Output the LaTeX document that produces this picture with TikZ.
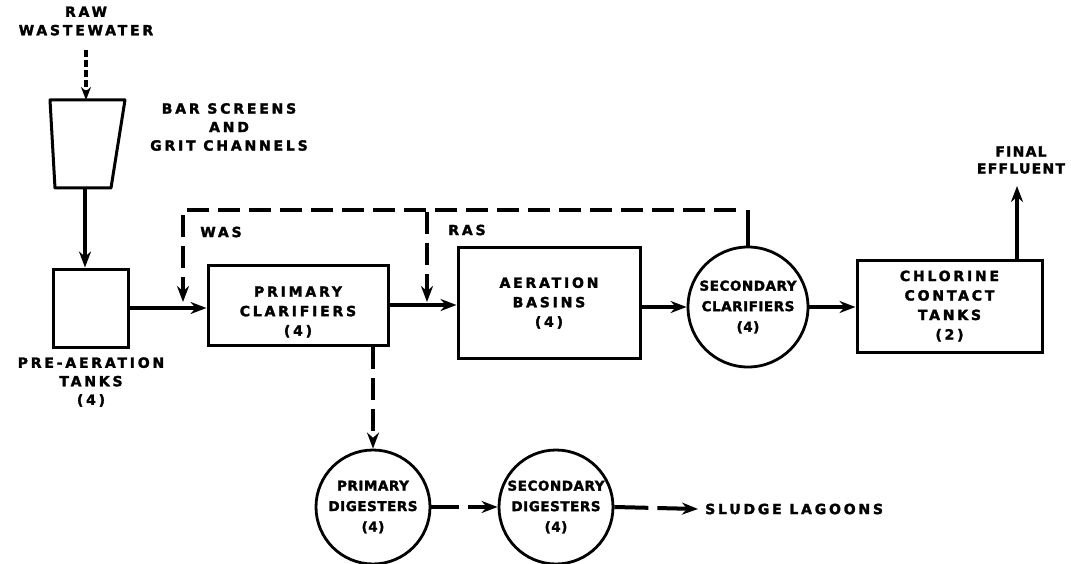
\documentclass[tikz,border=0pt]{standalone}
\usepackage{fontspec}
\newfontfamily\lbl[LetterSpace=20,FakeBold=2]{DejaVu Sans Bold}
\newfontfamily\lblnarrow[LetterSpace=9,FakeBold=2]{DejaVu Sans Bold}
\newfontfamily\tight[LetterSpace=4,FakeBold=2]{DejaVu Sans Bold}
\usetikzlibrary{arrows.meta}
\begin{document}
\begin{tikzpicture}[x=1pt,y=-1pt,
  txt/.style={font=\lbl\fontsize{14}{18.5}\selectfont, align=center, inner sep=0pt},
  boxnode/.style={draw, line width=3pt, align=center, inner sep=0pt, font=\lbl\fontsize{14}{19.5}\selectfont},
  circnode/.style={draw, circle, line width=2.8pt, align=center, inner sep=0pt, font=\tight\fontsize{13.5}{20.5}\selectfont},
  flow/.style={line width=4.5pt, -{Stealth[length=16pt,width=12pt]}},
  dflow/.style={line width=4pt, dash pattern=on 22pt off 9pt, -{Stealth[length=16pt,width=12pt]}}
]
\useasboundingbox (0,0) rectangle (1071,564);

% labels
\node[txt] (raw) at (86,21) {RAW\\WASTEWATER};
\node[txt] (bar) at (229,127) {BAR SCREENS\\AND\\GRIT CHANNELS};
\node[txt] (pretxt) at (91,382) {PRE-AERATION\\TANKS\\(4)};
\node[txt] (was) at (221,232) {WAS};
\node[txt] (ras) at (467,230) {RAS};
\node[txt, font=\lblnarrow\fontsize{14}{17}\selectfont] (fin) at (1021,160) {FINAL\\EFFLUENT};

% trapezoid (bar screens)
\coordinate (rawStart) at (86,50);
\coordinate (trapTop) at (86,100);
\coordinate (trapBot) at (85,188);
\draw[line width=3pt, line join=round] (50,100) -- (125,100) -- (111,188) -- (55,188) -- cycle;

% boxes
\node[boxnode, minimum width=75pt, minimum height=78pt] (pre) at (90.5,308) {};
\node[boxnode, minimum width=180pt, minimum height=80pt] (prim) at (298,305) {};
\node[txt, font=\lbl\fontsize{14}{19.5}\selectfont] (primtxt) at (298,312) {PRIMARY\\CLARIFIERS\\(4)};
\node[boxnode, minimum width=182pt, minimum height=110pt] (aer) at (549,303) {AERATION\\BASINS\\(4)};
\node[boxnode, minimum width=185pt, minimum height=92pt] (chl) at (949.5,306) {CHLORINE\\CONTACT\\TANKS\\(2)};

% circles
\node[circnode, minimum size=120pt] (sec) at (748,307) {SECONDARY\\CLARIFIERS\\(4)};
\node[circnode, minimum size=114pt] (pdig) at (373,507) {PRIMARY\\DIGESTERS\\(4)};
\node[circnode, minimum size=114pt] (sdig) at (556,507) {SECONDARY\\DIGESTERS\\(4)};
\node[txt, anchor=west] (sl) at (705,509) {SLUDGE LAGOONS};

% main flow
\coordinate (finTop) at (1017,186);
\draw[line width=3.6pt, dash pattern=on 7pt off 3pt, -{Stealth[length=13pt,width=10pt]}] (rawStart) -- (trapTop);
\draw[flow] (trapBot) -- (trapBot |- pre.north);
\draw[flow] (pre.east) -- (pre.east -| prim.west);
\draw[flow] (prim.east) -- (prim.east -| aer.west);
\draw[flow] (sec.west -| aer.east) -- (sec.west);
\draw[flow] (sec.east) -- (sec.east -| chl.west);
\draw[flow] (finTop |- chl.north) -- (finTop);

% return sludge lines
\coordinate (junc) at (748,210);
\coordinate (wasEnd) at (183,302);
\coordinate (rasTop) at (427,212);
\coordinate (rasEnd) at (427,302);
\draw[line width=4pt] (sec.north) -- (junc);
\draw[dflow] ([xshift=-12pt]junc) -| (wasEnd);
\draw[dflow] (rasTop) -- (rasEnd);

% sludge line
\draw[dflow] (prim.south -| pdig.north) -- (pdig.north);
\draw[dflow, dash pattern=on 28pt off 9pt] (pdig.east) -- (sdig.west);
\draw[dflow, dash pattern=on 34pt off 9pt] (sdig.east) -- ([xshift=-7pt]sl.west);
\end{tikzpicture}
\end{document}
